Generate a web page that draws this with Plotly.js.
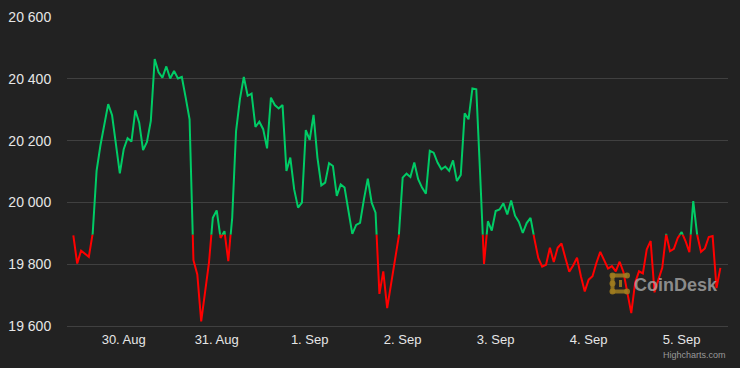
<!DOCTYPE html>
<html>
<head>
<meta charset="utf-8">
<script src="https://cdn.plot.ly/plotly-3.0.1.min.js"></script>
<style>
  html, body { margin: 0; padding: 0; background: #222222; }
  #chart { width: 740px; height: 368px; }
</style>
</head>
<body>
<div id="chart"></div>
<script>
// ---- data (hourly BTC price, USD) ----
const startTimeUTC = Date.UTC(2022, 7, 29, 11, 0); // 29 Aug 2022 11:00
const stepMs = 3600000; // one hour
const prices = [
  19893, 19802, 19844, 19835, 19824, 19900, 20102, 20185, 20253, 20318,
  20282, 20183, 20094, 20172, 20208, 20197, 20298, 20258, 20169, 20196,
  20264, 20464, 20421, 20404, 20440, 20401, 20425, 20401, 20406, 20339,
  20269, 19813, 19767, 19615, 19702, 19804, 19950, 19974, 19885, 19907,
  19810, 19950, 20231, 20334, 20406, 20345, 20352, 20244, 20261, 20237,
  20175, 20339, 20315, 20304, 20315, 20102, 20145, 20042, 19983, 19999,
  20234, 20202, 20283, 20145, 20055, 20064, 20127, 20118, 20021, 20058,
  20048, 19977, 19898, 19927, 19934, 20010, 20077, 19999, 19967, 19704,
  19777, 19658, 19740, 19821, 19890, 20080, 20093, 20082, 20129, 20075,
  20048, 20028, 20167, 20161, 20129, 20107, 20116, 20102, 20136, 20069,
  20089, 20288, 20269, 20369, 20366, 20090, 19801, 19939, 19909, 19972,
  19977, 19997, 19961, 20006, 19957, 19937, 19901, 19933, 19950, 19882,
  19820, 19792, 19798, 19853, 19807, 19853, 19867, 19820, 19776, 19796,
  19821, 19761, 19712, 19750, 19761, 19804, 19840, 19813, 19786, 19794,
  19777, 19808, 19774, 19707, 19642, 19740, 19777, 19770, 19848, 19875,
  19709, 19750, 19788, 19898, 19842, 19850, 19885, 19904, 19875, 19839,
  20004, 19896, 19840, 19851, 19888, 19891, 19723, 19788
];
const threshold = 19895;          // colour zone split (green above, red below)
const yMin = 19600, yMax = 20600, yStep = 200;
const xRange = ['2022-08-29 09:22', '2022-09-05 11:58'];
const firstTick = '2022-08-30';
const upColor = '#00cc66';
const downColor = '#ff0000';

// ---- build ----
function fmt(ms) { return new Date(ms).toISOString().slice(0, 16).replace('T', ' '); }
const times = prices.map((_, i) => fmt(startTimeUTC + i * stepMs));

const split = (threshold - yMin) / (yMax - yMin);

const traces = [
  { x: times, y: prices, type: 'scatter', mode: 'lines', xaxis: 'x', yaxis: 'y',
    line: { color: 'rgba(0,0,0,0)', width: 2 }, hoverinfo: 'skip', showlegend: false },
  { x: times, y: prices, type: 'scatter', mode: 'lines', xaxis: 'x', yaxis: 'y2',
    line: { color: upColor, width: 2 }, showlegend: false },
  { x: times, y: prices, type: 'scatter', mode: 'lines', xaxis: 'x', yaxis: 'y3',
    line: { color: downColor, width: 2 }, showlegend: false }
];

// pixel helpers for the watermark (plot area: x 67..728, y 17..326)
const L = 67, R = 728, T = 17, B = 326;
const px = v => (v - L) / (R - L);
const py = v => (B - v) / (B - T);
const gold = 'rgba(160,125,30,0.85)';
const shapes = [
  { type: 'path', xref: 'paper', yref: 'paper',
    path: `M ${px(627)},${py(275.5)} L ${px(612.5)},${py(275.5)} L ${px(612.5)},${py(291.5)} L ${px(627)},${py(291.5)}`,
    line: { color: gold, width: 4 } },
  { type: 'line', xref: 'paper', yref: 'paper', x0: px(620.5), x1: px(620.5), y0: py(280), y1: py(287),
    line: { color: gold, width: 3 } }
];
[[612.5, 275.5], [627, 275.5], [612.5, 291.5], [627, 291.5], [612.5, 283.5]].forEach(([cx, cy]) => {
  shapes.push({ type: 'circle', xref: 'paper', yref: 'paper',
    x0: px(cx - 3), x1: px(cx + 3), y0: py(cy - 3), y1: py(cy + 3),
    fillcolor: gold, line: { width: 0 } });
});

const font = { family: 'Liberation Sans, Arial, Helvetica, sans-serif', color: '#e6e6e6' };

const layout = {
  width: 740, height: 368,
  margin: { l: L, r: 740 - R, t: T, b: 368 - B, pad: 0 },
  paper_bgcolor: '#222222',
  plot_bgcolor: 'rgba(0,0,0,0)',
  separators: '. ',
  font: font,
  showlegend: false,
  xaxis: {
    type: 'date', range: xRange, domain: [0, 1], anchor: 'y',
    tickformat: '%-d. %b', dtick: 86400000, tick0: firstTick,
    showgrid: false, zeroline: false,
    showline: true, linecolor: '#404040', linewidth: 1,
    ticks: 'outside', ticklen: 1, tickcolor: 'rgba(0,0,0,0)',
    tickfont: { size: 13, family: font.family, color: '#e6e6e6' },
    fixedrange: true
  },
  yaxis: {
    range: [yMin, yMax], domain: [0, 1], anchor: 'x',
    dtick: yStep, tick0: yMin, tickformat: ',d',
    showgrid: true, gridcolor: '#404040', gridwidth: 1, zeroline: false,
    showline: false,
    ticks: 'outside', ticklen: 12, tickcolor: 'rgba(0,0,0,0)',
    tickfont: { size: 14, family: font.family, color: '#e6e6e6' },
    fixedrange: true
  },
  yaxis2: { range: [threshold, yMax], domain: [split, 1], anchor: 'x', visible: false, fixedrange: true },
  yaxis3: { range: [yMin, threshold], domain: [0, split], anchor: 'x', visible: false, fixedrange: true },
  shapes: shapes,
  annotations: [
    { xref: 'paper', yref: 'paper', x: px(632), y: py(284.5), xanchor: 'left', yanchor: 'middle',
      text: '<b>CoinDesk</b>', showarrow: false,
      font: { family: font.family, size: 18, color: 'rgba(175,175,175,0.75)' } },
    { xref: 'paper', yref: 'paper', x: 1, y: py(355), xanchor: 'right', yanchor: 'middle',
      text: 'Highcharts.com', showarrow: false,
      font: { family: font.family, size: 9, color: '#999999' } }
  ]
};

Plotly.newPlot('chart', traces, layout, { displayModeBar: false, staticPlot: true });
</script>
</body>
</html>
